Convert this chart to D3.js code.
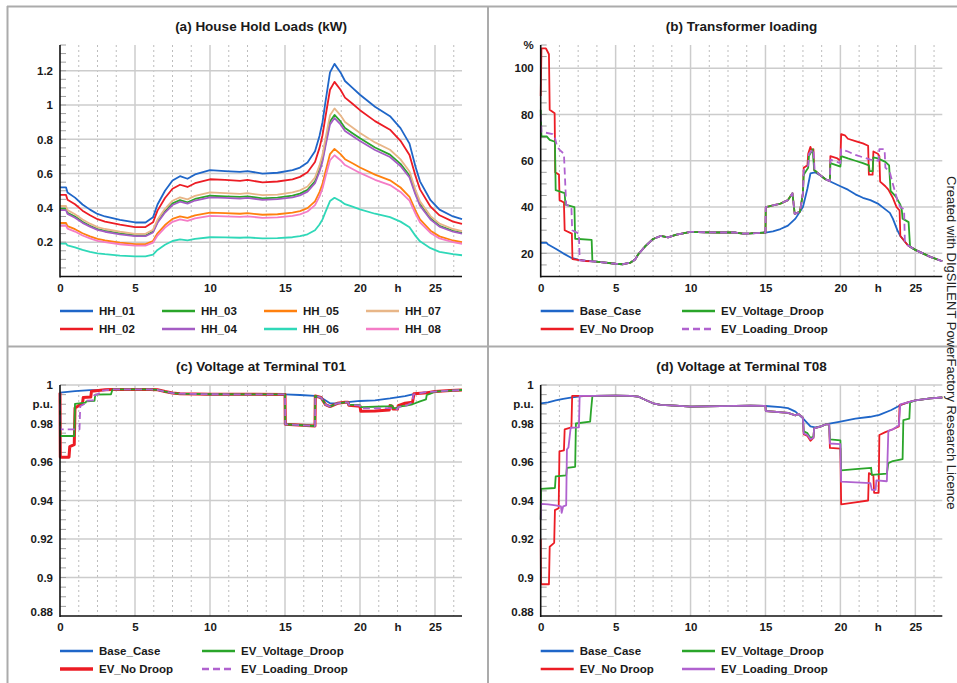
<!DOCTYPE html>
<html><head><meta charset="utf-8">
<script src="https://cdn.jsdelivr.net/npm/d3@7"></script>
<style>
body{margin:0;background:#fff}
svg{display:block}
text{font-family:"Liberation Sans",Arial,sans-serif}
</style></head>
<body><svg id="chart" width="957" height="683"></svg>
<script>
// ---------------- DATA ----------------
const X_MAX = 26.8;
const xTickValues = [0,5,10,15,20,22.5,25];

// (a) household loads (kW)
const tA = [0,0.4,0.5,1,1.5,2,2.5,3,4,5,5.7,6.2,6.5,7,7.5,8,8.5,9,10,11,12,12.5,13.5,14.5,15.5,16,16.5,17,17.3,17.5,17.7,18,18.3,18.7,19,19.5,20,21,22,22.7,23.3,23.7,24,24.7,25.3,26.2,26.8];
const HH_01 = [0.52,0.52,0.49,0.46,0.42,0.39,0.365,0.35,0.33,0.315,0.315,0.345,0.42,0.50,0.56,0.585,0.57,0.595,0.62,0.615,0.61,0.615,0.60,0.605,0.62,0.635,0.665,0.73,0.82,0.90,1.02,1.19,1.24,1.19,1.14,1.10,1.06,0.99,0.935,0.865,0.775,0.64,0.555,0.445,0.39,0.35,0.335];
const HH_02 = [0.476,0.476,0.448,0.421,0.384,0.357,0.334,0.320,0.302,0.288,0.288,0.316,0.384,0.458,0.512,0.535,0.522,0.544,0.567,0.563,0.558,0.563,0.549,0.554,0.567,0.581,0.608,0.668,0.750,0.824,0.933,1.089,1.135,1.089,1.043,1.007,0.970,0.906,0.856,0.791,0.709,0.586,0.508,0.407,0.357,0.320,0.307];
const HH_03 = [0.395,0.395,0.372,0.350,0.319,0.296,0.277,0.266,0.251,0.239,0.239,0.262,0.319,0.380,0.426,0.445,0.433,0.452,0.471,0.467,0.464,0.467,0.456,0.460,0.471,0.483,0.505,0.555,0.623,0.684,0.775,0.904,0.942,0.904,0.866,0.836,0.806,0.752,0.711,0.657,0.589,0.486,0.422,0.338,0.296,0.266,0.255];
const HH_04 = [0.387,0.387,0.365,0.343,0.313,0.291,0.272,0.261,0.246,0.235,0.235,0.257,0.313,0.373,0.417,0.436,0.425,0.443,0.462,0.458,0.454,0.458,0.447,0.451,0.462,0.473,0.495,0.544,0.611,0.671,0.760,0.887,0.924,0.887,0.849,0.820,0.790,0.738,0.697,0.644,0.577,0.477,0.413,0.332,0.291,0.261,0.250];
const HH_05 = [0.312,0.312,0.294,0.276,0.252,0.234,0.219,0.210,0.198,0.189,0.189,0.207,0.252,0.300,0.336,0.351,0.342,0.357,0.372,0.369,0.366,0.369,0.360,0.363,0.372,0.381,0.399,0.438,0.492,0.540,0.612,0.714,0.744,0.714,0.684,0.660,0.636,0.594,0.561,0.519,0.465,0.384,0.333,0.267,0.234,0.210,0.201];
const HH_06 = [0.192,0.192,0.181,0.170,0.155,0.144,0.135,0.130,0.122,0.117,0.117,0.128,0.155,0.185,0.207,0.216,0.211,0.220,0.229,0.228,0.226,0.228,0.222,0.224,0.229,0.235,0.246,0.270,0.303,0.333,0.377,0.440,0.459,0.440,0.422,0.407,0.392,0.366,0.346,0.320,0.287,0.237,0.205,0.165,0.144,0.130,0.124];
const HH_07 = [0.411,0.411,0.387,0.363,0.332,0.308,0.288,0.277,0.261,0.249,0.249,0.273,0.332,0.395,0.442,0.462,0.450,0.470,0.490,0.486,0.482,0.486,0.474,0.478,0.490,0.502,0.525,0.577,0.648,0.711,0.806,0.940,0.980,0.940,0.901,0.869,0.837,0.782,0.739,0.683,0.612,0.506,0.438,0.352,0.308,0.277,0.265];
const HH_08 = [0.296,0.296,0.279,0.262,0.239,0.222,0.208,0.200,0.188,0.180,0.180,0.197,0.239,0.285,0.319,0.333,0.325,0.339,0.353,0.351,0.348,0.351,0.342,0.345,0.353,0.362,0.379,0.416,0.467,0.513,0.581,0.678,0.707,0.678,0.650,0.627,0.604,0.564,0.533,0.493,0.442,0.365,0.316,0.254,0.222,0.200,0.191];
const hhNames = ["HH_01","HH_02","HH_03","HH_04","HH_05","HH_06","HH_07","HH_08"];
const hhColors = ["#1f66c8","#ec1c24","#2aa52a","#a45cc4","#ff800e","#2fd8b8","#e8b688","#f47cc6"];

// (b) transformer loading (%)
const bMid = [[3.5,16.5],[4,16.2],[5,15.5],[5.5,15.3],[6,16],[6.3,17.3],[6.5,19.5],[7,23.2],[7.5,26.2],[8,27.5],[8.5,26.9],[9,28],[10,29.3],[11,29.1],[12,29],[13,29],[13.5,28.5],[14,28.6],[15,29]];
const bEvMid = [[15.02,40],[16,41.5],[16.5,43],[16.8,46],[16.95,37],[17.3,38]];
const bSeg2 = [[18.7,53.5],[19,52],[19.3,51.2]];
const bTail = [[25,21.5],[25.5,20],[26,18.5],[26.8,16.6]];
const bBase = [[0,24.5],[0.4,24.5],[0.5,23.8],[1,22],[1.5,20],[2,18.2],[2.5,17.3],[3,16.8],...bMid,[15.5,29.5],[16,30.5],[16.5,32],[17,35],[17.5,40],[17.8,48],[18,54.5],[18.3,55],[18.7,53.5],[19,52],[19.5,50.5],[20,49],[20.5,47.5],[21,45.5],[21.5,44],[22,43],[22.5,41.5],[23,39],[23.3,37.5],[23.5,35],[23.8,30],[24,27.5],[24.5,23.5],...bTail];
const bNoDroop = [[0,88],[0.05,108.5],[0.35,108.5],[0.55,106],[0.6,82],[0.93,80.5],[0.97,55],[1.22,54],[1.26,43],[1.55,42],[1.6,30],[2.08,28.5],[2.12,17.5],[3,16.7],...bMid,...bEvMid,[17.5,46],[17.55,57],[17.8,58],[17.85,63],[18,66],[18.1,64],[18.2,65],[18.25,56],...bSeg2,[19.33,62],[19.8,61],[20,60],[20.05,71.5],[20.3,71],[20.5,69.5],[21,68.5],[21.5,67.5],[21.85,66.5],[21.9,54],[22.15,54],[22.2,64],[22.5,63],[22.6,62],[22.65,51],[23,49],[23.2,47.5],[23.5,44],[23.75,40],[23.95,38.5],[24,27.5],[24.5,23.5],...bTail];
const bVoltDroop = [[0,82],[0.05,70.5],[0.4,70.5],[0.6,69],[0.95,68.2],[1.0,47.3],[1.6,46],[1.65,41],[2.25,40],[2.3,26.3],[3.4,25.8],[3.45,16.5],...bMid,...bEvMid,[17.5,46],[17.55,54],[17.85,57],[17.9,62],[18.15,65],[18.25,56],...bSeg2,[19.33,59],[20,57.5],[20.05,62],[20.5,61],[21,60],[21.5,59],[21.9,58],[21.95,55.5],[22.15,55.5],[22.2,61.5],[22.5,61],[23,59.5],[23.25,58],[23.35,47],[23.7,44.5],[24,41],[24.1,38.5],[24.15,35],[24.55,33.5],[24.65,22.8],...bTail];
const bLoadDroop = [[0,80],[0.05,72.5],[0.8,71.5],[0.95,70],[1.1,66],[1.3,64.5],[1.55,63],[1.7,41],[2.05,40],[2.1,30],[2.55,28.5],[2.6,17],[3,16.7],...bMid,...bEvMid,[17.5,46],[17.55,56],[17.85,58],[17.9,63],[18.2,65],[18.28,56],...bSeg2,[19.33,60.5],[20,59],[20.05,65],[20.5,64],[21,62.5],[21.5,61.5],[22,60.5],[22.55,60],[22.6,65],[22.95,65],[23,57],[23.3,55],[23.5,50],[23.8,43],[24,40],[24.25,39],[24.3,25.5],[24.5,23.5],...bTail];

// (c) voltage at T01 (p.u.)
const cMid = [[3.5,0.9977],[5,0.9977],[6,0.9977],[6.5,0.9975],[7,0.9966],[7.5,0.9958],[8,0.9955],[10,0.9952],[15,0.9951]];
const cEvMid = [[15.02,0.9796],[17,0.9787],[17.02,0.9943],[17.4,0.9935],[17.7,0.9898],[18,0.9888],[18.5,0.9905],[19,0.991],[19.2,0.991]];
const cTail = [[25,0.9966],[26,0.9971],[26.8,0.9974]];
const cBase = [[0,0.996],[1,0.9968],[2,0.9973],[3,0.9975],...cMid,[16,0.9948],[17,0.9943],[17.5,0.993],[18,0.9905],[18.5,0.9906],[19,0.991],[20,0.9917],[21,0.992],[22,0.993],[23,0.9942],[23.8,0.9957],...cTail];
const cNoDroop = [[0,0.996],[0.02,0.9625],[0.6,0.9625],[0.65,0.968],[0.95,0.969],[1.0,0.988],[1.5,0.9905],[1.55,0.9935],[2.05,0.9938],[2.1,0.9968],[3,0.9975],...cMid,...cEvMid,[19.25,0.9895],[20,0.989],[20.05,0.9863],[21,0.9865],[21.95,0.987],[22,0.9893],[22.15,0.989],[22.2,0.9875],[22.5,0.9875],[22.55,0.9893],[23,0.9905],[23.5,0.991],[23.6,0.9955],[24.5,0.996],...cTail];
const cVoltDroop = [[0,0.996],[0.02,0.9735],[0.95,0.9735],[1.0,0.9902],[1.7,0.9908],[1.75,0.9915],[2.3,0.9918],[2.35,0.995],[3.4,0.9952],...cMid,...cEvMid,[19.25,0.9898],[20,0.9895],[20.05,0.9885],[21,0.9887],[22,0.989],[22.05,0.9895],[22.15,0.9892],[22.2,0.988],[22.5,0.988],[22.55,0.9888],[23,0.9892],[23.5,0.99],[24,0.9915],[24.4,0.9925],[24.45,0.9948],[24.7,0.9955],...cTail];
const cLoadDroop = [[0,0.996],[0.02,0.977],[1.3,0.977],[1.35,0.989],[1.7,0.9905],[1.75,0.9918],[2.2,0.992],[2.25,0.9945],[2.6,0.9955],[2.65,0.997],...cMid,...cEvMid,[19.25,0.9897],[20,0.9893],[20.05,0.9878],[22,0.988],[22.2,0.9875],[22.5,0.9875],[22.55,0.9885],[23,0.989],[23.5,0.991],[23.55,0.995],[24.3,0.9962],...cTail];

// (d) voltage at T08 (p.u.)
const dMid = [[3.5,0.9944],[5,0.9945],[6,0.9944],[6.5,0.994],[7,0.9922],[7.5,0.9905],[8,0.9897],[9,0.9893],[10,0.9888],[12,0.989],[14,0.9893],[15,0.9891]];
const dEvMid1 = [[15.02,0.9865],[16.5,0.9855],[17,0.9842],[17.2,0.985],[17.5,0.983]];
const dEvMid2 = [[18.25,0.9775],[18.7,0.9785],[19,0.9795],[19.25,0.9795]];
const dTail = [[25,0.992],[26,0.993],[26.8,0.9935]];
const dBase = [[0,0.9905],[0.5,0.991],[1,0.992],[1.5,0.9928],[2,0.9934],[2.5,0.994],[3,0.9943],...dMid,[16,0.9885],[16.5,0.988],[17,0.9862],[17.5,0.9827],[18,0.9785],[18.3,0.978],[18.7,0.9785],[19,0.9795],[20,0.981],[21,0.9825],[22,0.9835],[22.6,0.9845],[23.4,0.987],[24,0.9895],[24.5,0.991],...dTail];
const dNoDroop = [[0,0.92],[0.02,0.8965],[0.55,0.8965],[0.6,0.916],[0.9,0.918],[0.95,0.935],[1.2,0.936],[1.25,0.9655],[1.55,0.966],[1.6,0.977],[2.05,0.978],[2.1,0.9943],...dMid,...dEvMid1,[17.55,0.9745],[17.8,0.9735],[18,0.971],[18.2,0.9725],...dEvMid2,[19.3,0.9673],[20,0.967],[20.05,0.938],[21,0.939],[21.85,0.94],[21.9,0.9542],[22.2,0.953],[22.25,0.944],[22.55,0.944],[22.6,0.974],[23,0.9755],[23.5,0.977],[23.9,0.9785],[23.95,0.9895],[24.5,0.991],...dTail];
const dVoltDroop = [[0,0.93],[0.02,0.946],[0.95,0.9465],[1.0,0.9525],[1.7,0.953],[1.75,0.957],[2.3,0.9575],[2.35,0.98],[3.3,0.981],[3.35,0.986],[3.45,0.9943],...dMid,...dEvMid1,[17.55,0.976],[17.8,0.975],[18,0.9725],[18.2,0.973],...dEvMid2,[19.3,0.9717],[20,0.9712],[20.05,0.9557],[21,0.9563],[22.05,0.957],[22.1,0.9533],[23.1,0.954],[23.2,0.9594],[23.5,0.9605],[24.15,0.9615],[24.2,0.9818],[24.6,0.9825],[24.65,0.991],...dTail];
const dLoadDroop = [[0,0.93],[0.02,0.9382],[0.5,0.938],[1,0.9375],[1.35,0.937],[1.4,0.9336],[1.5,0.937],[1.7,0.9375],[1.75,0.9665],[1.85,0.9675],[2.0,0.9778],[2.55,0.978],[2.6,0.9943],...dMid,...dEvMid1,[17.55,0.9748],[17.8,0.974],[18,0.9718],[18.2,0.9725],...dEvMid2,[19.3,0.9696],[20,0.9693],[20.05,0.9498],[22,0.949],[22.1,0.9455],[22.35,0.9455],[22.4,0.9505],[23.1,0.95],[23.2,0.9762],[23.5,0.977],[23.9,0.979],[24,0.99],[24.5,0.991],...dTail];

const evNames = ["Base_Case","EV_No Droop","EV_Voltage_Droop","EV_Loading_Droop"];
const evColors = ["#1f66c8","#ec1c24","#2aa52a","#b062cf"];

// ---------------- DRAW ----------------
const svg = d3.select("#chart");
const FONT_SMALL = 11.5, FONT_TITLE = 13.5;

// frame
const frame = svg.append("g").attr("stroke","#ababab").attr("stroke-width",2);
frame.append("line").attr("x1",7).attr("x2",957).attr("y1",6.5).attr("y2",6.5);
frame.append("line").attr("x1",7.5).attr("x2",7.5).attr("y1",6).attr("y2",683);
frame.append("line").attr("x1",488).attr("x2",488).attr("y1",6).attr("y2",683);
frame.append("line").attr("x1",7).attr("x2",957).attr("y1",346.5).attr("y2",346.5);

function panel(cfg){
  const g = svg.append("g");
  const x = d3.scaleLinear().domain([0,X_MAX]).range([cfg.x0,cfg.x1]);
  const y = d3.scaleLinear().domain(cfg.yDomain).range([cfg.yBot,cfg.yTop]);

  // title
  g.append("text").attr("x",(cfg.x0+cfg.x1)/2).attr("y",cfg.titleY)
    .attr("text-anchor","middle").attr("font-size",FONT_TITLE).attr("font-weight","bold")
    .attr("fill","#1a1a1a").text(cfg.title);

  // vertical grid
  const minorX = d3.range(0, X_MAX+0.001, 1.25).filter(v => v>0 && Math.abs(v/5-Math.round(v/5))>1e-6);
  g.append("g").selectAll("line").data(minorX).join("line")
    .attr("x1",d=>x(d)).attr("x2",d=>x(d)).attr("y1",cfg.yTop).attr("y2",cfg.yBot)
    .attr("stroke","#bdbdbd").attr("stroke-width",1).attr("stroke-dasharray","2,3");
  g.append("g").selectAll("line").data([5,10,15,20,25]).join("line")
    .attr("x1",d=>x(d)).attr("x2",d=>x(d)).attr("y1",cfg.yTop).attr("y2",cfg.yBot)
    .attr("stroke","#cccccc").attr("stroke-width",1.5);
  // horizontal grid
  g.append("g").selectAll("line").data(cfg.majorY).join("line")
    .attr("x1",cfg.x0).attr("x2",cfg.x1).attr("y1",d=>y(d)).attr("y2",d=>y(d))
    .attr("stroke","#cccccc").attr("stroke-width",1.5);
  // minor y ticks
  g.append("g").selectAll("line").data(cfg.minorY).join("line")
    .attr("x1",cfg.x0).attr("x2",cfg.x0+6).attr("y1",d=>y(d)).attr("y2",d=>y(d))
    .attr("stroke","#a0a0a0").attr("stroke-width",1);

  // series
  const line = d3.line().x(d=>x(d[0])).y(d=>y(d[1]));
  cfg.series.forEach(s=>{
    g.append("path").datum(s.data).attr("d",line).attr("fill","none")
      .attr("stroke",s.color).attr("stroke-width",s.width||1.8)
      .attr("stroke-dasharray",s.dash||null).attr("stroke-linejoin","round");
  });

  // axes
  const xAxis = d3.axisBottom(x).tickValues(xTickValues)
    .tickFormat(d => d===22.5 ? "h" : d3.format("d")(d)).tickSize(0).tickPadding(7);
  const xg = g.append("g").attr("transform",`translate(0,${cfg.yBot})`).call(xAxis);
  xg.select(".domain").remove();
  xg.selectAll("text").attr("font-size",FONT_SMALL).attr("font-weight","bold").attr("fill","#1a1a1a")
    .attr("font-family","Liberation Sans, Arial, sans-serif");

  const yAxis = d3.axisLeft(y).tickValues(cfg.yLabels.map(d=>d[0]))
    .tickFormat((d,i)=>cfg.yLabels[i][1]).tickSize(0).tickPadding(7);
  const yg = g.append("g").attr("transform",`translate(${cfg.x0},0)`).call(yAxis);
  yg.select(".domain").remove();
  yg.selectAll("text").attr("font-size",FONT_SMALL).attr("font-weight","bold").attr("fill","#1a1a1a")
    .attr("font-family","Liberation Sans, Arial, sans-serif")
    .attr("dy",(d,i)=> (cfg.yLabels[i][2]||0) + 3.5);
  yg.selectAll("text").attr("dy",null).attr("transform",(d,i)=>`translate(0,${(cfg.yLabels[i][2]||0)})`).attr("dy","0.32em");

  g.append("line").attr("x1",cfg.x0).attr("x2",cfg.x0).attr("y1",cfg.yTop).attr("y2",cfg.yBot+1)
    .attr("stroke","#111").attr("stroke-width",1.6);
  g.append("line").attr("x1",cfg.x0).attr("x2",cfg.x1).attr("y1",cfg.yBot).attr("y2",cfg.yBot)
    .attr("stroke","#111").attr("stroke-width",1.6);

  // legend
  cfg.legend.forEach(it=>{
    g.append("line").attr("x1",it.x).attr("x2",it.x+33).attr("y1",it.y).attr("y2",it.y)
      .attr("stroke",it.color).attr("stroke-width",it.width||2.5).attr("stroke-dasharray",it.dash||null);
    g.append("text").attr("x",it.x+39).attr("y",it.y).attr("dy","0.35em")
      .attr("font-size",FONT_SMALL).attr("font-weight","bold").attr("fill","#1a1a1a").text(it.name);
  });
}

// panel (a)
const aSeriesData = [HH_01,HH_02,HH_03,HH_04,HH_05,HH_06,HH_07,HH_08];
panel({
  x0:60, x1:462, yTop:45, yBot:276.5, yDomain:[0,1.35], titleY:30.5,
  title:"(a) House Hold Loads (kW)",
  majorY:[0.2,0.4,0.6,0.8,1.0,1.2],
  minorY:d3.range(0.05,1.351,0.05),
  yLabels:[[0.2,"0.2"],[0.4,"0.4"],[0.6,"0.6"],[0.8,"0.8"],[1.0,"1"],[1.2,"1.2"]],
  series: aSeriesData.map((v,i)=>({data:tA.map((t,j)=>[t,v[j]]), color:hhColors[i]})),
  legend: hhNames.map((n,i)=>({name:n, color:hhColors[i], x:60+102*Math.floor(i/2), y: i%2===0?311:329}))
});

// panel (b)
panel({
  x0:540.7, x1:942.3, yTop:45, yBot:276.5, yDomain:[10,110], titleY:30.5,
  title:"(b) Transformer loading",
  majorY:[20,40,60,80,100],
  minorY:d3.range(15,110.1,5),
  yLabels:[[20,"20"],[40,"40"],[60,"60"],[80,"80"],[100,"100"],[110,"%"]],
  series:[
    {data:bBase,color:evColors[0]},
    {data:bNoDroop,color:evColors[1]},
    {data:bVoltDroop,color:evColors[2]},
    {data:bLoadDroop,color:evColors[3],dash:"7,4"}
  ],
  legend:[
    {name:evNames[0],color:evColors[0],x:540.7,y:311},
    {name:evNames[1],color:evColors[1],x:540.7,y:329},
    {name:evNames[2],color:evColors[2],x:682,y:311},
    {name:evNames[3],color:evColors[3],x:682,y:329,dash:"7,4"}
  ]
});

// panel (c)
panel({
  x0:60, x1:462, yTop:385, yBot:616, yDomain:[0.88,1.0], titleY:370.5,
  title:"(c) Voltage at Terminal T01",
  majorY:[0.9,0.92,0.94,0.96,0.98,1.0],
  minorY:d3.range(0.885,1.0001,0.005),
  yLabels:[[0.88,"0.88",-4],[0.9,"0.9"],[0.92,"0.92"],[0.94,"0.94"],[0.96,"0.96"],[0.98,"0.98"],[0.99,"p.u."],[1.0,"1"]],
  series:[
    {data:cBase,color:evColors[0]},
    {data:cNoDroop,color:evColors[1],width:3},
    {data:cVoltDroop,color:evColors[2]},
    {data:cLoadDroop,color:evColors[3],dash:"7,4"}
  ],
  legend:[
    {name:evNames[0],color:evColors[0],x:60,y:651},
    {name:evNames[1],color:evColors[1],x:60,y:669,width:3.5},
    {name:evNames[2],color:evColors[2],x:202,y:651},
    {name:evNames[3],color:evColors[3],x:202,y:669,dash:"7,4"}
  ]
});

// panel (d)
panel({
  x0:540.7, x1:942.3, yTop:385, yBot:616, yDomain:[0.88,1.0], titleY:370.5,
  title:"(d) Voltage at Terminal T08",
  majorY:[0.9,0.92,0.94,0.96,0.98,1.0],
  minorY:d3.range(0.885,1.0001,0.005),
  yLabels:[[0.88,"0.88",-4],[0.9,"0.9"],[0.92,"0.92"],[0.94,"0.94"],[0.96,"0.96"],[0.98,"0.98"],[0.99,"p.u."],[1.0,"1"]],
  series:[
    {data:dBase,color:evColors[0]},
    {data:dNoDroop,color:evColors[1]},
    {data:dVoltDroop,color:evColors[2]},
    {data:dLoadDroop,color:evColors[3]}
  ],
  legend:[
    {name:evNames[0],color:evColors[0],x:540.7,y:651},
    {name:evNames[1],color:evColors[1],x:540.7,y:669},
    {name:evNames[2],color:evColors[2],x:682,y:651},
    {name:evNames[3],color:evColors[3],x:682,y:669}
  ]
});

// watermark
svg.append("text").attr("transform","translate(947,176) rotate(90)")
  .attr("font-size",13).attr("fill","#222")
  .text("Created with DIgSILENT PowerFactory Research Licence");
</script>
</body></html>
